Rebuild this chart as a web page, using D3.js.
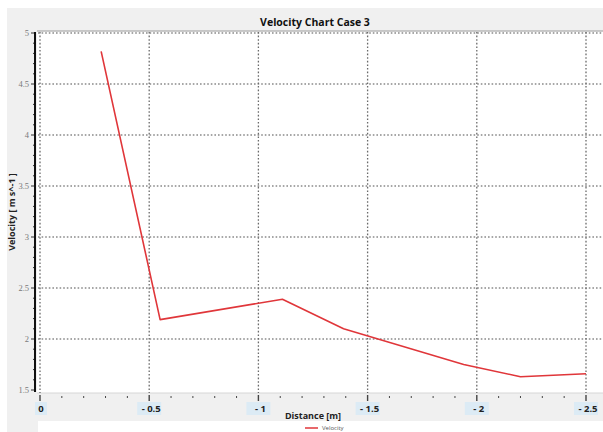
<!DOCTYPE html>
<html>
<head>
<meta charset="utf-8">
<script src="https://cdn.jsdelivr.net/npm/d3@7"></script>
<style>
  html, body { margin: 0; padding: 0; background: #fff; }
  svg { display: block; font-family: "Open Sans", "DejaVu Sans", sans-serif; }
</style>
</head>
<body>
<div id="chart"></div>
<script>
const distance = [-0.28, -0.55, -1.11, -1.39, -1.94, -2.2, -2.5]
const velocity = [4.82, 2.19, 2.39, 2.10, 1.75, 1.63, 1.66]
const xTicks = [0, -0.5, -1, -1.5, -2, -2.5]
const yTicks = [1.5, 2, 2.5, 3, 3.5, 4, 4.5, 5]
const seriesName = 'Velocity'

const W = 603, H = 432
const PLOT = { left: 37, top: 31, right: 603, bottom: 393 }

const svg = d3.select('#chart').append('svg')
  .attr('width', W).attr('height', H)

// panel background
svg.append('rect').attr('x', 7).attr('y', 8).attr('width', W - 7).attr('height', H - 8).attr('fill', '#f0f0f0')
svg.append('rect').attr('x', PLOT.left).attr('y', PLOT.top)
  .attr('width', PLOT.right - PLOT.left).attr('height', PLOT.bottom - PLOT.top).attr('fill', '#fff')
svg.append('line').attr('x1', PLOT.left).attr('x2', PLOT.right).attr('y1', PLOT.top).attr('y2', PLOT.top)
  .attr('stroke', '#b8b8b8').attr('stroke-width', 1.5)
svg.append('line').attr('x1', PLOT.left).attr('x2', PLOT.right).attr('y1', PLOT.bottom).attr('y2', PLOT.bottom)
  .attr('stroke', '#d6d6d6').attr('stroke-width', 1)

const x = d3.scaleLinear().domain([0, -2.5]).range([40, 586])
const y = d3.scaleLinear().domain([1.5, 5]).range([390, 33])

// ── grid ─────────────────────────────────────────────────────
const grid = svg.append('g').attr('class', 'grid')
grid.selectAll('line.h').data(yTicks.filter(d => d > 1.5)).enter().append('line')
  .attr('class', 'h')
  .attr('x1', 38).attr('x2', PLOT.right)
  .attr('y1', d => y(d)).attr('y2', d => y(d))
  .attr('stroke', '#8a8a8a').attr('stroke-width', 1.3).attr('stroke-dasharray', '1.6,2')
grid.selectAll('line.v').data(xTicks).enter().append('line')
  .attr('class', 'v')
  .attr('x1', d => x(d)).attr('x2', d => x(d))
  .attr('y1', PLOT.top + 1).attr('y2', PLOT.bottom)
  .attr('stroke', '#6a6a6a').attr('stroke-width', 1.3).attr('stroke-dasharray', '1.6,2')

// ── series ───────────────────────────────────────────────────
const pts = distance.map((d, i) => [d, velocity[i]])
svg.append('path').datum(pts)
  .attr('fill', 'none').attr('stroke', '#e0363a').attr('stroke-width', 1.6)
  .attr('stroke-linejoin', 'round')
  .attr('d', d3.line().x(d => x(d[0])).y(d => y(d[1])))

// ── y axis ───────────────────────────────────────────────────
const yMinor = d3.range(15, 51).map(v => v / 10)
svg.append('g').selectAll('line').data(yMinor).enter().append('line')
  .attr('x1', d => (Math.round(d * 10) % 5 === 0) ? 31 : 33).attr('x2', 35)
  .attr('y1', d => y(d)).attr('y2', d => y(d))
  .attr('stroke', '#333').attr('stroke-width', 1)
svg.append('line').attr('x1', 35).attr('x2', 35).attr('y1', y(5) - 1).attr('y2', y(1.5) + 2)
  .attr('stroke', '#111').attr('stroke-width', 2)
svg.append('g').selectAll('text').data(yTicks).enter().append('text')
  .attr('x', 29).attr('y', d => y(d) + 3)
  .attr('text-anchor', 'end').attr('font-size', 8.5).attr('fill', '#7a7a7a')
  .attr('font-family', '"Liberation Serif", serif')
  .text(d => d3.format('')(d))

// ── x axis ───────────────────────────────────────────────────
const xMinor = d3.range(0, 26).map(v => -v / 10)
svg.append('g').selectAll('line').data(xMinor).enter().append('line')
  .attr('x1', d => x(d)).attr('x2', d => x(d))
  .attr('y1', d => (Math.round(d * 10) % 5 === 0) ? 395 : 396)
  .attr('y2', d => (Math.round(d * 10) % 5 === 0) ? 401 : 398)
  .attr('stroke', '#444').attr('stroke-width', d => (Math.round(d * 10) % 5 === 0) ? 1.4 : 1)
const fmtX = d => d === 0 ? '0' : '- ' + Math.abs(d)
const xl = svg.append('g').selectAll('g').data(xTicks).enter().append('g')
  .attr('transform', d => `translate(${x(d)},0)`)
xl.append('rect')
  .attr('x', d => d === 0 ? -5 : -12).attr('y', 402)
  .attr('width', d => d === 0 ? 12 : 24).attr('height', 13)
  .attr('fill', '#dcebf5')
xl.append('text')
  .attr('y', 412).attr('text-anchor', 'middle')
  .attr('font-size', 9.5).attr('font-weight', 'bold').attr('fill', '#222')
  .attr('dx', d => d === 0 ? 1 : 2)
  .text(fmtX)

// ── titles ───────────────────────────────────────────────────
svg.append('text').attr('x', 315).attr('y', 26).attr('text-anchor', 'middle')
  .attr('font-size', 10.5).attr('font-weight', 'bold').attr('fill', '#111')
  .text('Velocity Chart Case 3')
svg.append('text').attr('x', 313).attr('y', 419).attr('text-anchor', 'middle')
  .attr('font-size', 9).attr('font-weight', 'bold').attr('fill', '#222')
  .text('Distance [m]')
svg.append('text')
  .attr('transform', 'translate(15,212) rotate(-90)').attr('text-anchor', 'middle')
  .attr('font-size', 9).attr('font-weight', 'bold').attr('fill', '#222')
  .text('Velocity [ m s^-1 ]')

// ── legend ───────────────────────────────────────────────────
svg.append('rect').attr('x', 38).attr('y', 421).attr('width', W - 38).attr('height', H - 421).attr('fill', '#fff')
svg.append('line').attr('x1', 305).attr('x2', 318).attr('y1', 428).attr('y2', 428)
  .attr('stroke', '#e0363a').attr('stroke-width', 1.5)
svg.append('text').attr('x', 322).attr('y', 430).attr('font-size', 6).attr('fill', '#555')
  .text(seriesName)
</script>
</body>
</html>
